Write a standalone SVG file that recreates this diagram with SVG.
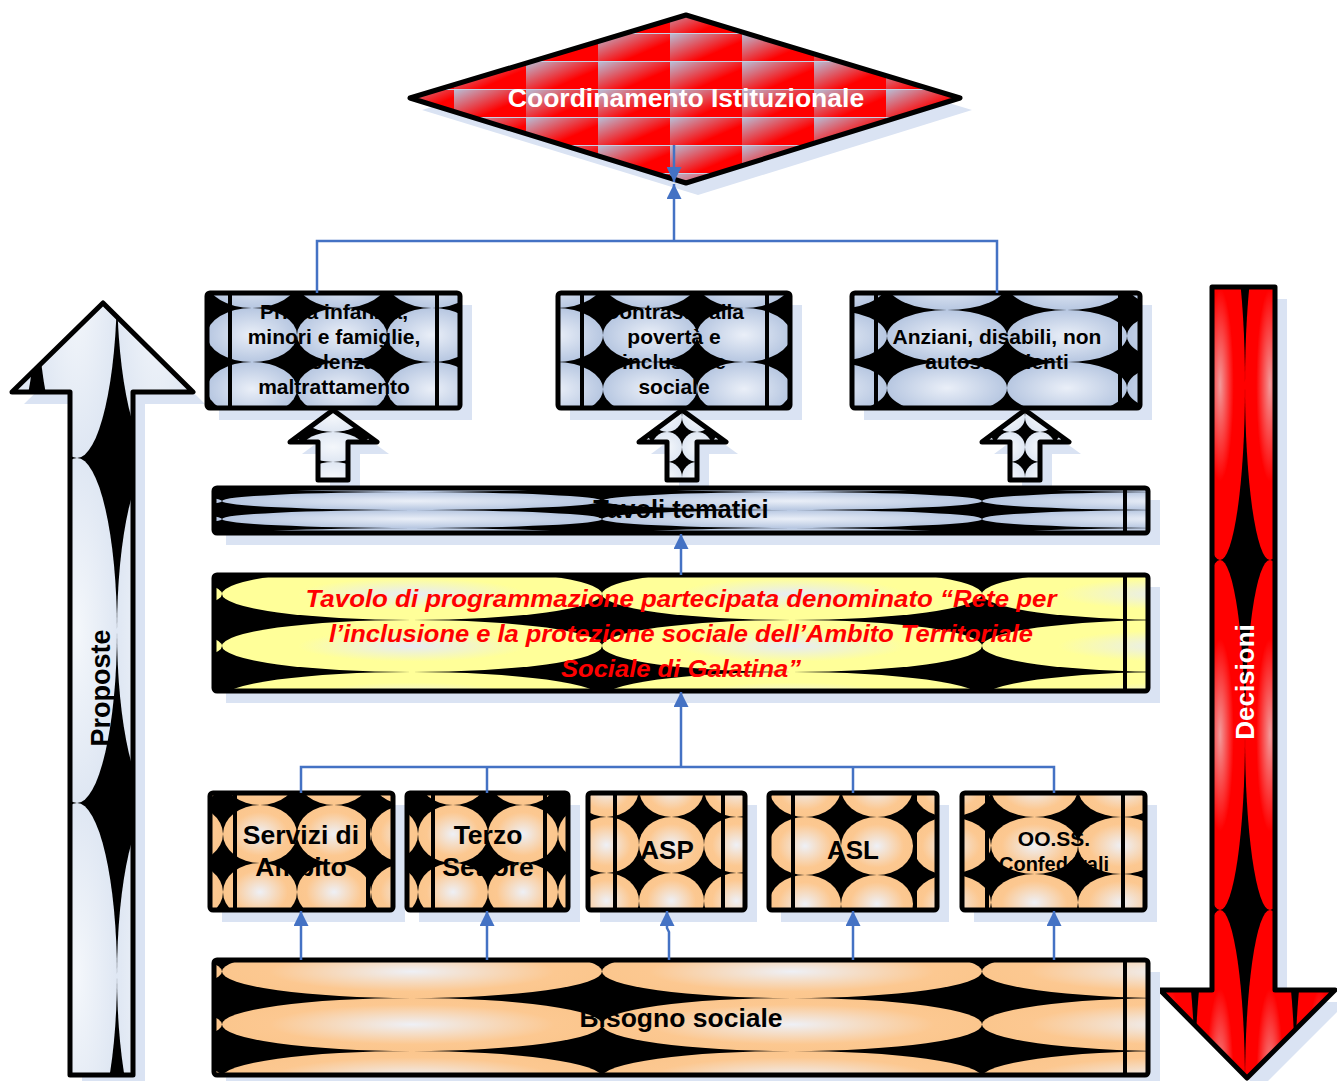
<svg xmlns="http://www.w3.org/2000/svg" width="1337" height="1081" viewBox="0 0 1337 1081">
<style>
.sh{fill:#dae3f3}
.bx{stroke:#000;stroke-width:5;stroke-linejoin:round}
.in{stroke:#000;stroke-width:4}
.t{font-family:"Liberation Sans",Arial,sans-serif;font-weight:bold;fill:#000;text-anchor:middle}
.cn{fill:none;stroke:#4472c4;stroke-width:2.5}
</style>
<defs>
<radialGradient id="gBlue"><stop offset="0" stop-color="#eaeff8"/><stop offset="1" stop-color="#b7c7e1"/></radialGradient>
<radialGradient id="gOr"><stop offset="0" stop-color="#eef0f6"/><stop offset="0.75" stop-color="#fcc891"/><stop offset="1" stop-color="#fbc68d"/></radialGradient>
<radialGradient id="gYel"><stop offset="0" stop-color="#e6ecf6"/><stop offset="0.6" stop-color="#ffff99"/><stop offset="1" stop-color="#ffff99"/></radialGradient>
<radialGradient id="gLt"><stop offset="0" stop-color="#f4f7fb"/><stop offset="1" stop-color="#dfe7f3"/></radialGradient>
<radialGradient id="gRed"><stop offset="0" stop-color="#f29a9a"/><stop offset="0.55" stop-color="#ff0000"/><stop offset="1" stop-color="#ff0000"/></radialGradient>
<linearGradient id="gDia" x1="0" y1="0" x2="1" y2="0.9"><stop offset="0" stop-color="#b6c3dc"/><stop offset="0.7" stop-color="#ff0000"/><stop offset="1" stop-color="#ff0000"/></linearGradient>

<pattern id="pDia" patternUnits="userSpaceOnUse" x="454" y="5" width="72" height="28"><rect width="72" height="28" fill="url(#gDia)"/><rect width="72" height="1" fill="#c8d0e4"/></pattern>

<pattern id="pA" patternUnits="userSpaceOnUse" x="297" y="308" width="90" height="54"><rect width="90" height="54"/><ellipse cx="45" cy="27" rx="45" ry="27" fill="url(#gBlue)"/></pattern>
<pattern id="pB" patternUnits="userSpaceOnUse" x="603" y="308" width="94" height="54"><rect width="94" height="54"/><ellipse cx="47" cy="27" rx="47" ry="27" fill="url(#gBlue)"/></pattern>
<pattern id="pC" patternUnits="userSpaceOnUse" x="887" y="310" width="120" height="52"><rect width="120" height="52"/><ellipse cx="60" cy="26" rx="60" ry="26" fill="url(#gBlue)"/></pattern>

<pattern id="pTav" patternUnits="userSpaceOnUse" x="222" y="492" width="380" height="18"><rect width="380" height="18"/><ellipse cx="190" cy="9" rx="190" ry="9" fill="url(#gBlue)"/></pattern>
<pattern id="pYel" patternUnits="userSpaceOnUse" x="222" y="568" width="380" height="52"><rect width="380" height="52"/><ellipse cx="190" cy="26" rx="190" ry="26" fill="url(#gYel)"/></pattern>
<pattern id="pBis" patternUnits="userSpaceOnUse" x="222" y="945" width="380" height="53"><rect width="380" height="53"/><ellipse cx="190" cy="26.5" rx="190" ry="26.5" fill="url(#gOr)"/></pattern>

<pattern id="pS1" patternUnits="userSpaceOnUse" x="297" y="805" width="74" height="58"><rect width="74" height="58"/><ellipse cx="37" cy="29" rx="37" ry="29" fill="url(#gOr)"/></pattern>
<pattern id="pS2" patternUnits="userSpaceOnUse" x="488" y="805" width="70" height="58"><rect width="70" height="58"/><ellipse cx="35" cy="29" rx="35" ry="29" fill="url(#gOr)"/></pattern>
<pattern id="pS3" patternUnits="userSpaceOnUse" x="639" y="817" width="65" height="56"><rect width="65" height="56"/><ellipse cx="32.5" cy="28" rx="32.5" ry="28" fill="url(#gOr)"/></pattern>
<pattern id="pS4" patternUnits="userSpaceOnUse" x="841" y="817" width="72" height="58"><rect width="72" height="58"/><ellipse cx="36" cy="29" rx="36" ry="29" fill="url(#gOr)"/></pattern>
<pattern id="pS5" patternUnits="userSpaceOnUse" x="991" y="817" width="87" height="57"><rect width="87" height="57"/><ellipse cx="43.5" cy="28.5" rx="43.5" ry="28.5" fill="url(#gOr)"/></pattern>

<pattern id="pUp1" patternUnits="userSpaceOnUse" x="303" y="432" width="60" height="30"><rect width="60" height="30"/><ellipse cx="30" cy="15" rx="30" ry="15" fill="url(#gLt)"/></pattern>
<pattern id="pUp2" patternUnits="userSpaceOnUse" x="652" y="432" width="30" height="30"><rect width="30" height="30"/><ellipse cx="15" cy="15" rx="15" ry="15" fill="url(#gLt)"/></pattern>
<pattern id="pUp3" patternUnits="userSpaceOnUse" x="995" y="432" width="30" height="30"><rect width="30" height="30"/><ellipse cx="15" cy="15" rx="15" ry="15" fill="url(#gLt)"/></pattern>

<pattern id="pProp" patternUnits="userSpaceOnUse" x="37" y="113" width="80" height="345"><rect width="80" height="345"/><ellipse cx="40" cy="172.5" rx="40" ry="172.5" fill="url(#gLt)"/></pattern>
<pattern id="pDec" patternUnits="userSpaceOnUse" x="1195" y="210" width="50" height="350"><rect width="50" height="350"/><ellipse cx="25" cy="175" rx="25" ry="175" fill="url(#gRed)"/></pattern>

<marker id="ar" viewBox="0 0 10 10" refX="10" refY="5" markerWidth="18" markerHeight="15" markerUnits="userSpaceOnUse" orient="auto"><path d="M0,0 L10,5 L0,10 z" fill="#4472c4"/></marker>
</defs>

<rect width="1337" height="1081" fill="#fff"/>

<!-- Proposte arrow -->
<g id="proposte">
<polygon class="sh" points="115,315 205,404 145,404 145,1087 82,1087 82,404 24,404"/>
<polygon class="bx" fill="url(#pProp)" points="103,303 193,392 133,392 133,1075 70,1075 70,392 12,392"/>
<text class="t" font-size="27" transform="translate(110,688) rotate(-90)">Proposte</text>
</g>

<!-- Decisioni arrow -->
<g id="decisioni">
<polygon class="sh" points="1224,299 1287,299 1287,1002 1347,1002 1259,1090 1172,1002 1224,1002"/>
<polygon class="bx" fill="url(#pDec)" points="1212,287 1275,287 1275,990 1335,990 1247,1078 1160,990 1212,990"/>
<text class="t" font-size="26" style="fill:#fff" transform="translate(1254,682) rotate(-90)">Decisioni</text>
</g>

<!-- Coordinamento -->
<g id="coordinamento">
<polygon class="sh" points="422,110 698,27 972,110 698,195"/>
<polygon class="bx" fill="url(#pDia)" points="410,98 686,15 960,98 686,183" stroke-width="6"/>
<text class="t" font-size="26.5" style="fill:#fff" x="686" y="107">Coordinamento Istituzionale</text>
</g>

<!-- Top boxes -->
<g id="box-infanzia">
<rect class="sh" x="219" y="305" width="253" height="115"/>
<rect class="bx" x="207" y="293" width="253" height="115" rx="3" fill="url(#pA)"/>
<line class="in" x1="230" y1="293" x2="230" y2="408"/><line class="in" x1="437" y1="293" x2="437" y2="408"/>
<text class="t" font-size="21" x="334" y="319">Prima infanzia,</text>
<text class="t" font-size="21" x="334" y="344">minori e famiglie,</text>
<text class="t" font-size="21" x="334" y="369">violenza</text>
<text class="t" font-size="21" x="334" y="394">maltrattamento</text>
</g>
<g id="box-poverta">
<rect class="sh" x="570" y="305" width="232" height="115"/>
<rect class="bx" x="558" y="293" width="232" height="115" rx="3" fill="url(#pB)"/>
<line class="in" x1="582" y1="293" x2="582" y2="408"/><line class="in" x1="767" y1="293" x2="767" y2="408"/>
<text class="t" font-size="21" x="674" y="319">Contrasto alla</text>
<text class="t" font-size="21" x="674" y="344">povertà e</text>
<text class="t" font-size="21" x="674" y="369">inclusione</text>
<text class="t" font-size="21" x="674" y="394">sociale</text>
</g>
<g id="box-anziani">
<rect class="sh" x="864" y="305" width="288" height="115"/>
<rect class="bx" x="852" y="293" width="288" height="115" rx="3" fill="url(#pC)"/>
<line class="in" x1="876" y1="293" x2="876" y2="408"/><line class="in" x1="1120" y1="293" x2="1120" y2="408"/>
<text class="t" font-size="21" x="997" y="344">Anziani, disabili, non</text>
<text class="t" font-size="21" x="997" y="369">autosufficienti</text>
</g>

<!-- Small hollow arrows -->
<g id="up-1">
<polygon class="sh" points="345,422 389,454 360,454 360,492 330,492 330,454 302,454"/>
<polygon class="bx" fill="url(#pUp1)" points="333,410 377,442 348,442 348,480 318,480 318,442 290,442"/>
</g>
<g id="up-2">
<polygon class="sh" points="694,422 738,454 709,454 709,492 679,492 679,454 651,454"/>
<polygon class="bx" fill="url(#pUp2)" points="682,410 726,442 697,442 697,480 667,480 667,442 639,442"/>
</g>
<g id="up-3">
<polygon class="sh" points="1037,422 1081,454 1052,454 1052,492 1022,492 1022,454 994,454"/>
<polygon class="bx" fill="url(#pUp3)" points="1025,410 1069,442 1040,442 1040,480 1010,480 1010,442 982,442"/>
</g>

<!-- Tavoli tematici -->
<g id="tavoli">
<rect class="sh" x="226" y="500" width="934" height="45"/>
<rect class="bx" x="214" y="488" width="934" height="45" rx="3" fill="url(#pTav)"/>
<line class="in" x1="1125" y1="488" x2="1125" y2="533"/>
<text class="t" font-size="25.5" x="681" y="518">Tavoli tematici</text>
</g>

<!-- Tavolo di programmazione -->
<g id="tavolo-programmazione">
<rect class="sh" x="226" y="587" width="934" height="116"/>
<rect class="bx" x="214" y="575" width="934" height="116" rx="3" fill="url(#pYel)"/>
<line class="in" x1="1125" y1="575" x2="1125" y2="691"/>
<g font-family="'Liberation Sans',Arial,sans-serif" font-weight="bold" font-style="italic" font-size="24" fill="#ff0000" text-anchor="middle">
<text x="681" y="607" textLength="751" lengthAdjust="spacingAndGlyphs">Tavolo di programmazione partecipata denominato “Rete per</text>
<text x="681" y="642" textLength="704" lengthAdjust="spacingAndGlyphs">l’inclusione e la protezione sociale dell’Ambito Territoriale</text>
<text x="681" y="677" textLength="240" lengthAdjust="spacingAndGlyphs">Sociale di Galatina”</text>
</g>
</g>

<!-- Bottom boxes -->
<g id="servizi">
<rect class="sh" x="222" y="805" width="183" height="117"/>
<rect class="bx" x="210" y="793" width="183" height="117" rx="3" fill="url(#pS1)"/>
<line class="in" x1="235" y1="793" x2="235" y2="910"/><line class="in" x1="368" y1="793" x2="368" y2="910"/>
<text class="t" font-size="26.5" x="301" y="844">Servizi di</text>
<text class="t" font-size="26.5" x="301" y="876">Ambito</text>
</g>
<g id="terzo">
<rect class="sh" x="419" y="805" width="161" height="117"/>
<rect class="bx" x="407" y="793" width="161" height="117" rx="3" fill="url(#pS2)"/>
<line class="in" x1="433" y1="793" x2="433" y2="910"/><line class="in" x1="545" y1="793" x2="545" y2="910"/>
<text class="t" font-size="26.5" x="488" y="844">Terzo</text>
<text class="t" font-size="26.5" x="488" y="876">Settore</text>
</g>
<g id="asp">
<rect class="sh" x="600" y="805" width="157" height="117"/>
<rect class="bx" x="588" y="793" width="157" height="117" rx="3" fill="url(#pS3)"/>
<line class="in" x1="615" y1="793" x2="615" y2="910"/><line class="in" x1="723" y1="793" x2="723" y2="910"/>
<text class="t" font-size="26" x="667" y="859">ASP</text>
</g>
<g id="asl">
<rect class="sh" x="781" y="805" width="168" height="117"/>
<rect class="bx" x="769" y="793" width="168" height="117" rx="3" fill="url(#pS4)"/>
<line class="in" x1="793" y1="793" x2="793" y2="910"/><line class="in" x1="915" y1="793" x2="915" y2="910"/>
<text class="t" font-size="26" x="853" y="859">ASL</text>
</g>
<g id="ooss">
<rect class="sh" x="974" y="805" width="183" height="117"/>
<rect class="bx" x="962" y="793" width="183" height="117" rx="3" fill="url(#pS5)"/>
<line class="in" x1="987" y1="793" x2="987" y2="910"/><line class="in" x1="1123" y1="793" x2="1123" y2="910"/>
<text class="t" font-size="21" x="1054" y="846">OO.SS.</text>
<text class="t" font-size="20" x="1054" y="871">Confederali</text>
</g>

<!-- Bisogno sociale -->
<g id="bisogno">
<rect class="sh" x="226" y="972" width="934" height="115"/>
<rect class="bx" x="214" y="960" width="934" height="115" rx="3" fill="url(#pBis)"/>
<line class="in" x1="1125" y1="960" x2="1125" y2="1075"/>
<text class="t" font-size="26.5" x="681" y="1027">Bisogno sociale</text>
</g>

<!-- Connectors -->
<g id="connectors">
<path class="cn" d="M317,293 V241 H997 V293"/>
<path class="cn" d="M674,241 V184" marker-end="url(#ar)"/>
<path class="cn" d="M674,145 V182" marker-end="url(#ar)"/>
<path class="cn" d="M681,575 V534" marker-end="url(#ar)"/>
<path class="cn" d="M301,793 V767 H1054 V793"/>
<path class="cn" d="M487,767 V793"/>
<path class="cn" d="M853,767 V793"/>
<path class="cn" d="M681,767 V692" marker-end="url(#ar)"/>
<path class="cn" d="M301,960 V911" marker-end="url(#ar)"/>
<path class="cn" d="M487,960 V911" marker-end="url(#ar)"/>
<path class="cn" d="M669,960 V932 L667,928 V911" marker-end="url(#ar)"/>
<path class="cn" d="M853,960 V911" marker-end="url(#ar)"/>
<path class="cn" d="M1054,960 V911" marker-end="url(#ar)"/>
</g>
</svg>
